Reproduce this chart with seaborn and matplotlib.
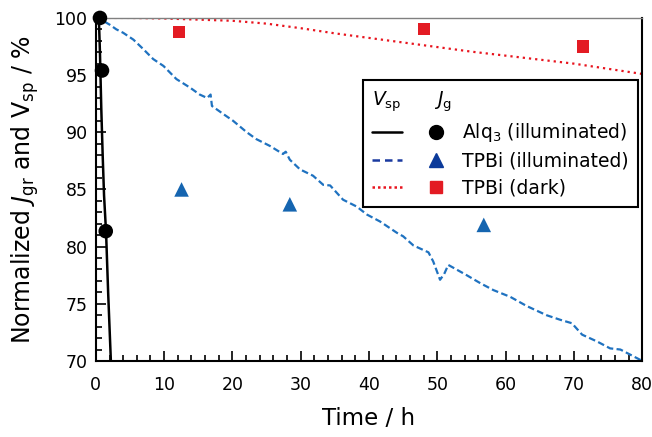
import numpy as np
import pandas as pd
import matplotlib
matplotlib.use("Agg")
import matplotlib.pyplot as plt
import seaborn as sns
from matplotlib.lines import Line2D
from matplotlib.legend_handler import HandlerTuple
from matplotlib.ticker import MultipleLocator

# V_sp traces (lines)
alq3_t = [0.0, 0.45, 0.6, 0.8, 1.0, 1.2, 1.5, 1.8, 2.2, 2.5]
alq3_v = [100.0, 99.8, 97.0, 92.0, 88.0, 84.5, 81.2, 76.0, 70.0, 66.0]

tpbi_ill_t = [0.0, 0.6, 1.2, 2.05, 3.0, 4.0, 5.5, 6.9, 8.4, 9.9, 11.8, 13.8, 15.2,
              16.3, 16.8, 17.0, 18.65, 20.1, 22.1, 23.5, 25.5, 27.4, 27.8, 28.4,
              29.9, 31.8, 33.3, 34.3, 36.2, 38.2, 39.7, 41.6, 44.1, 45.0, 46.5,
              48.7, 49.4, 50.4, 51.0, 51.6, 54.3, 56.3, 58.2, 60.7, 63.1, 66.0,
              68.0, 69.7, 71.2, 73.4, 75.3, 76.8, 79.7, 80.0]
tpbi_ill_v = [100.0, 100.0, 99.7, 99.4, 99.0, 98.7, 98.1, 97.3, 96.4, 95.8, 94.65,
              93.9, 93.3, 93.0, 93.3, 92.3, 91.6, 91.0, 90.0, 89.4, 88.8, 88.1,
              88.3, 87.6, 86.75, 86.2, 85.4, 85.35, 84.1, 83.5, 82.8, 82.2, 81.2,
              80.9, 80.1, 79.5, 78.7, 77.1, 77.6, 78.4, 77.5, 76.8, 76.2, 75.6,
              74.8, 74.0, 73.6, 73.3, 72.3, 71.7, 71.1, 71.0, 70.1, 70.0]

tpbi_dark_t = [0, 5, 10, 15, 20, 25, 30, 35, 40, 45, 50, 55, 60, 65, 70, 75, 80]
tpbi_dark_v = [100.0, 100.0, 99.95, 99.85, 99.75, 99.5, 99.1, 98.65, 98.25,
               97.85, 97.45, 97.05, 96.7, 96.35, 96.0, 95.55, 95.1]

# J_g points (markers)
alq3_pt_t = [0.6, 0.9, 1.45]
alq3_pt_j = [100.0, 95.4, 81.35]
tpbi_ill_pt_t = [12.55, 28.4, 56.8]
tpbi_ill_pt_j = [85.0, 83.7, 81.9]
tpbi_dark_pt_t = [12.2, 48.1, 71.4]
tpbi_dark_pt_j = [98.8, 99.0, 97.5]

labels = ["Alq$_3$ (illuminated)", "TPBi (illuminated)", "TPBi (dark)"]

sns.set_theme(style="white")
plt.rcParams["font.family"] = ["DejaVu Sans"]
plt.rcParams["mathtext.fontset"] = "dejavusans"
plt.rcParams["text.color"] = "black"
plt.rcParams["axes.labelcolor"] = "black"

fig = plt.figure(figsize=(6.52, 4.37), dpi=100)
ax = fig.add_axes([0.147, 0.174, 0.838, 0.785])

blue = "#1f72c0"
red = "#e8141e"

sns.lineplot(x=tpbi_dark_t, y=tpbi_dark_v, ax=ax, color=red, lw=1.6,
             linestyle=(0, (1, 1.8)), estimator=None, sort=False)
sns.lineplot(x=tpbi_ill_t, y=tpbi_ill_v, ax=ax, color=blue, lw=1.6,
             linestyle=(0, (3, 1.5)), estimator=None, sort=False)
sns.lineplot(x=alq3_t, y=alq3_v, ax=ax, color="black", lw=1.8,
             estimator=None, sort=False)

sns.scatterplot(x=tpbi_dark_pt_t, y=tpbi_dark_pt_j, ax=ax, marker="s", s=75,
                color="#e31b23", edgecolor="none", zorder=4)
sns.scatterplot(x=tpbi_ill_pt_t, y=tpbi_ill_pt_j, ax=ax, marker="^", s=110,
                color="#1565b0", edgecolor="none", zorder=4)
sns.scatterplot(x=alq3_pt_t, y=alq3_pt_j, ax=ax, marker="o", s=110,
                color="black", edgecolor="none", zorder=5, clip_on=False)

ax.set_xlim(0, 80)
ax.set_ylim(70, 100)
ax.xaxis.set_major_locator(MultipleLocator(10))
ax.xaxis.set_minor_locator(MultipleLocator(2))
ax.yaxis.set_major_locator(MultipleLocator(5))
ax.yaxis.set_minor_locator(MultipleLocator(1))
ax.tick_params(which="both", direction="in", colors="black", labelsize=12.5,
               top=False, right=False, left=True, bottom=True, width=1.2)
ax.tick_params(which="major", length=7)
ax.tick_params(which="minor", length=4)
ax.tick_params(axis="x", which="major", pad=11)
ax.tick_params(axis="y", which="major", pad=6)

for side in ["left", "bottom", "right"]:
    ax.spines[side].set_color("black")
    ax.spines[side].set_linewidth(1.5)
ax.spines["top"].set_color("#808080")
ax.spines["top"].set_linewidth(1.0)

ax.set_xlabel("Time / h", fontsize=16.5, color="black", labelpad=9)
ax.set_ylabel("Normalized $J_{\\mathrm{gr}}$ and V$_{\\mathrm{sp}}$ / %",
              fontsize=17, color="black", labelpad=10)

handles = [
    (Line2D([], [], color="black", lw=1.8),
     Line2D([], [], color="black", marker="o", ls="none", ms=10)),
    (Line2D([], [], color="#1a3aa0", lw=1.8, ls=(0, (3, 2))),
     Line2D([], [], color="#0b3a9a", marker="^", ls="none", ms=10)),
    (Line2D([], [], color=red, lw=1.8, ls=(0, (1, 1.2))),
     Line2D([], [], color="#e31b23", marker="s", ls="none", ms=8)),
]
leg = ax.legend(handles, labels, handler_map={tuple: HandlerTuple(ndivide=None, pad=1.0)},
                loc="upper right", bbox_to_anchor=(0.993, 0.819), borderaxespad=0,
                fontsize=13.5, handlelength=4.2, handletextpad=0.6, labelspacing=0.4,
                borderpad=0.5, frameon=True, fancybox=False, framealpha=1,
                edgecolor="black", labelcolor="black",
                title="$V_{\\mathrm{sp}}\\quad\\quad J_{\\mathrm{g}}$",
                title_fontsize=13.5, alignment="left")
leg.get_title().set_color("black")
leg.get_frame().set_linewidth(1.5)

fig.savefig("out.png", dpi=100)
